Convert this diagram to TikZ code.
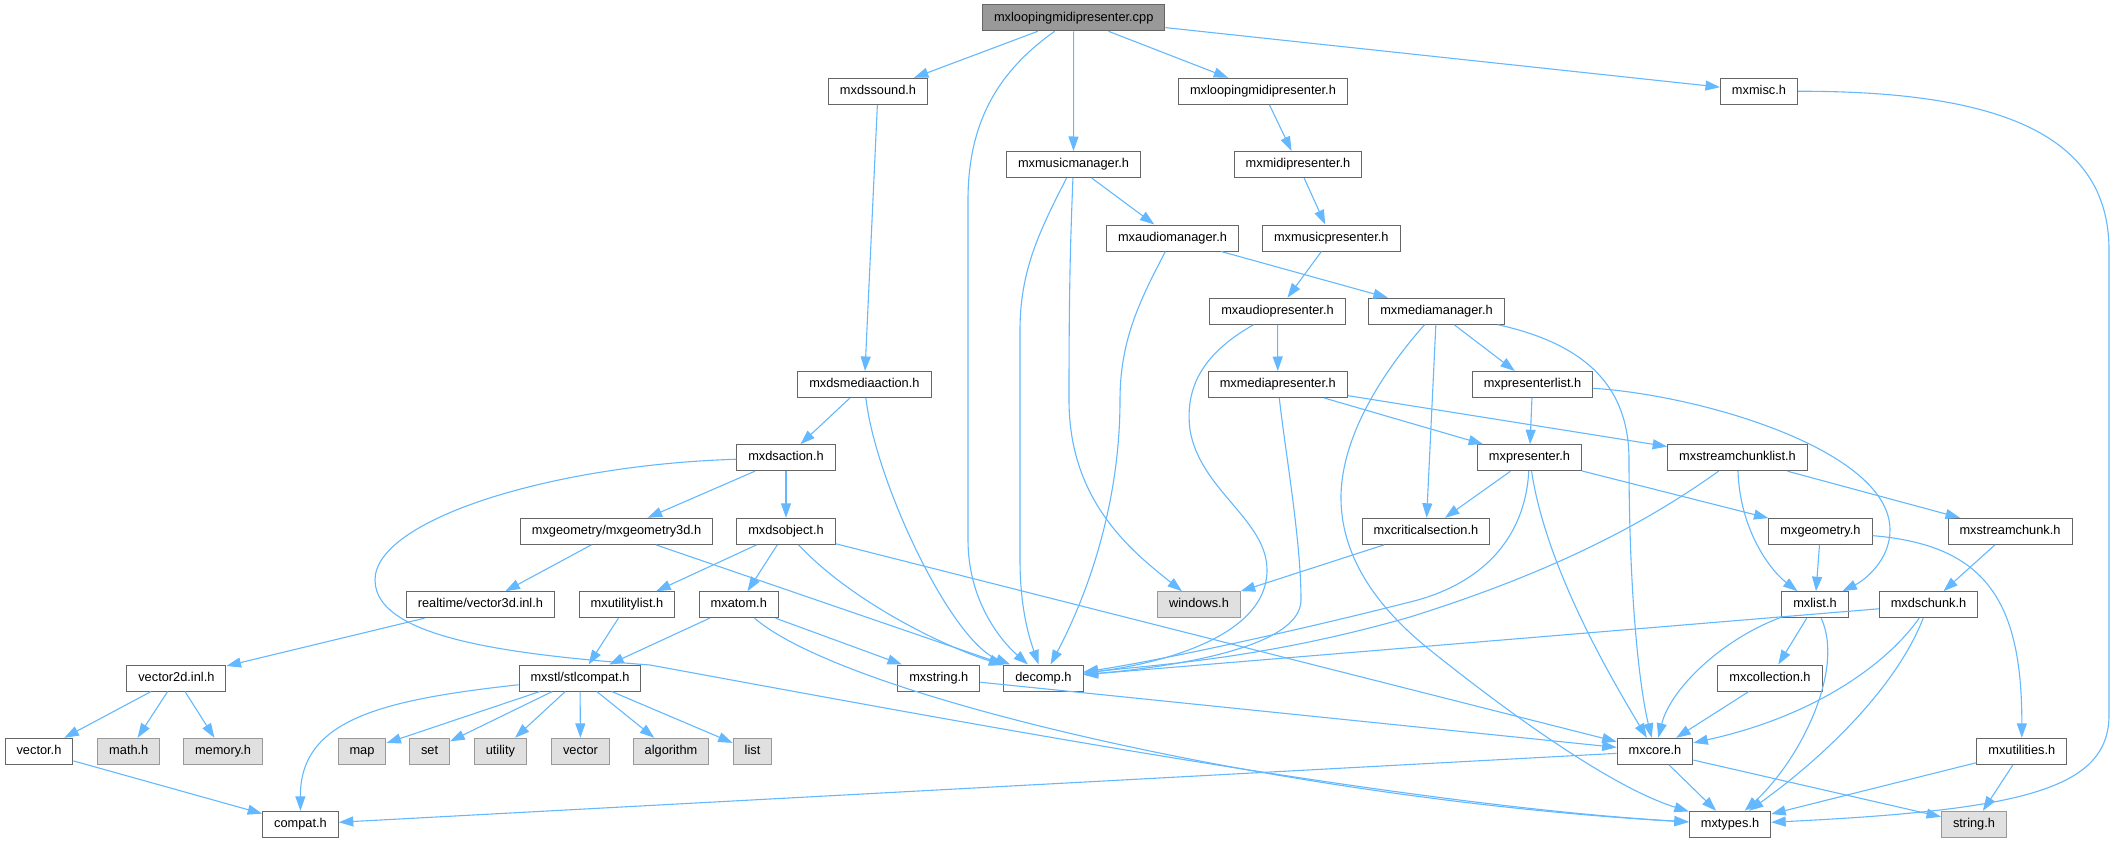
\documentclass[tikz,border=0pt]{standalone}
\usepackage{fontspec}
\setmainfont{Liberation Sans}
\usetikzlibrary{arrows.meta}
\definecolor{edgeblue}{HTML}{63B8FF}
\definecolor{boxline}{HTML}{666666}
\definecolor{sysfill}{HTML}{E0E0E0}
\definecolor{sysline}{HTML}{999999}
\tikzset{
	incgraph/.style={x=1pt,y=-1pt,line width=1.1pt},
	file/.style={draw=boxline,fill=white,line width=1pt,minimum height=26pt,
		inner xsep=11.5pt,inner ysep=0pt,text height=9.2pt,text depth=2.7pt,
		font=\fontsize{12.8pt}{15pt}\selectfont},
	sysfile/.style={file,draw=sysline,fill=sysfill},
	root/.style={file,fill=sysline},
	dep/.style={draw=edgeblue,fill=none,
		-{Triangle[length=14.5pt,width=10pt,color=edgeblue,fill=edgeblue]}}
}

\begin{document}
\begin{tikzpicture}[incgraph]
	\useasboundingbox (0,0) rectangle (2115,843);
	
	\node[root] (cpp) at (1073.7,17.8) {mxloopingmidipresenter.cpp};
	\node[file] (dssound) at (878,91.3) {mxdssound.h};
	\node[file] (loopmidi) at (1263,91.3) {mxloopingmidipresenter.h};
	\node[file] (misc) at (1759,91.3) {mxmisc.h};
	\node[file] (musicmgr) at (1073.5,164.5) {mxmusicmanager.h};
	\node[file] (midipres) at (1298,164.5) {mxmidipresenter.h};
	\node[file] (audiomgr) at (1172.5,238) {mxaudiomanager.h};
	\node[file] (musicpres) at (1331.3,238) {mxmusicpresenter.h};
	\node[file] (audiopres) at (1277.5,311.2) {mxaudiopresenter.h};
	\node[file] (mediamgr) at (1436.5,311.2) {mxmediamanager.h};
	\node[file] (dsmedia) at (864.4,384.5) {mxdsmediaaction.h};
	\node[file] (mediapres) at (1277.8,384.5) {mxmediapresenter.h};
	\node[file] (preslist) at (1532.5,384.5) {mxpresenterlist.h};
	\node[file] (dsaction) at (786,457.7) {mxdsaction.h};
	\node[file] (presenter) at (1529.5,457.7) {mxpresenter.h};
	\node[file] (chunklist) at (1737.5,457.7) {mxstreamchunklist.h};
	\node[file] (geom3d) at (616.5,531.3) {mxgeometry/mxgeometry3d.h};
	\node[file] (dsobject) at (786,531.3) {mxdsobject.h};
	\node[file] (critsec) at (1426,531.3) {mxcriticalsection.h};
	\node[file] (geometry) at (1820.5,531.3) {mxgeometry.h};
	\node[file] (chunk) at (2010,531.3) {mxstreamchunk.h};
	\node[file] (vec3d) at (480.4,604.7) {realtime/vector3d.inl.h};
	\node[file] (utillist) at (627,604.7) {mxutilitylist.h};
	\node[file] (atom) at (738.8,604.7) {mxatom.h};
	\node[sysfile] (windows) at (1199,604.7) {windows.h};
	\node[file] (list) at (1815,604.7) {mxlist.h};
	\node[file] (dschunk) at (1928.5,604.7) {mxdschunk.h};
	\node[file] (vec2d) at (176.4,678) {vector2d.inl.h};
	\node[file] (stlcompat) at (580,678) {mxstl/stlcompat.h};
	\node[file] (string) at (938.8,678) {mxstring.h};
	\node[file] (decomp) at (1043.4,678) {decomp.h};
	\node[file] (collection) at (1770,678) {mxcollection.h};
	\node[file] (vector) at (39,751.3) {vector.h};
	\node[sysfile] (math) at (128.8,751.3) {math.h};
	\node[sysfile] (memory) at (223,751.3) {memory.h};
	\node[sysfile] (stdmap) at (362,751.3) {map};
	\node[sysfile] (stdset) at (429.6,751.3) {set};
	\node[sysfile] (stdutility) at (500.4,751.3) {utility};
	\node[sysfile] (stdvector) at (580.5,751.3) {vector};
	\node[sysfile] (stdalgorithm) at (671,751.3) {algorithm};
	\node[sysfile] (stdlist) at (752.5,751.3) {list};
	\node[file] (core) at (1655,751.3) {mxcore.h};
	\node[file] (utilities) at (2021.8,751.3) {mxutilities.h};
	\node[file] (compat) at (300.5,824.3) {compat.h};
	\node[file] (types) at (1730,824.3) {mxtypes.h};
	\node[sysfile] (stringh) at (1974,824.3) {string.h};
	
	% straight includes
	\path[dep] (cpp) edge (dssound) edge (musicmgr) edge (loopmidi) edge (misc);
	\path[dep] (dssound) edge (dsmedia);
	\path[dep] (loopmidi) edge (midipres);
	\path[dep] (midipres) edge (musicpres);
	\path[dep] (musicpres) edge (audiopres);
	\path[dep] (musicmgr) edge (audiomgr);
	\path[dep] (audiomgr) edge (mediamgr);
	\path[dep] (audiopres) edge (mediapres);
	\path[dep] (mediamgr) edge (critsec) edge (preslist);
	\path[dep] (dsmedia) edge (dsaction);
	\path[dep] (mediapres) edge (presenter) edge (chunklist);
	\path[dep] (preslist) edge (presenter);
	\path[dep] (dsaction) edge (geom3d) edge (dsobject);
	\path[dep] (presenter) edge (critsec) edge (geometry);
	\path[dep] (chunklist) edge (chunk);
	\path[dep] (geom3d) edge (vec3d) edge (decomp);
	\path[dep] (dsobject) edge (utillist) edge (atom) edge (core);
	\path[dep] (critsec) edge (windows);
	\path[dep] (geometry) edge (list);
	\path[dep] (chunk) edge (dschunk);
	\path[dep] (vec3d) edge (vec2d);
	\path[dep] (utillist) edge (stlcompat);
	\path[dep] (atom) edge (stlcompat) edge (string);
	\path[dep] (list) edge (collection);
	\path[dep] (dschunk) edge (decomp);
	\path[dep] (vec2d) edge (vector) edge (math) edge (memory);
	\path[dep] (stlcompat) edge (stdmap) edge (stdset) edge (stdutility) edge (stdvector)
		edge (stdalgorithm) edge (stdlist);
	\path[dep] (string) edge (core);
	\path[dep] (collection) edge (core);
	\path[dep] (vector) edge (compat);
	\path[dep] (core) edge (compat) edge (types) edge (stringh);
	\path[dep] (utilities) edge (types) edge (stringh);
	
	% curved includes
	\draw[dep] (cpp) .. controls (1000,70) and (968,120) .. (968,200) -- (968,540)
		.. controls (968,600) and (1000,640) .. (decomp);
	\draw[dep] (musicmgr) .. controls (1040,230) and (1020,270) .. (1020,330) -- (1020,560)
		.. controls (1020,610) and (1030,640) .. (decomp);
	\draw[dep] (musicmgr) .. controls (1070,250) and (1069,300) .. (1069,400)
		.. controls (1069,500) and (1130,550) .. (windows);
	\draw[dep] (audiomgr) .. controls (1140,300) and (1120,340) .. (1120,400)
		.. controls (1120,500) and (1090,590) .. (decomp);
	\draw[dep] (audiopres) .. controls (1200,355) and (1185,390) .. (1190,430)
		.. controls (1200,490) and (1267,520) .. (1267,570)
		.. controls (1267,640) and (1150,665) .. (decomp);
	\draw[dep] (mediapres) .. controls (1285,450) and (1301,540) .. (1301,600)
		.. controls (1301,650) and (1160,668) .. (decomp);
	\draw[dep] (mediamgr) .. controls (1380,375) and (1340,440) .. (1341,500)
		.. controls (1342,560) and (1380,610) .. (1430,650)
		.. controls (1530,730) and (1620,790) .. (types);
	\draw[dep] (mediamgr) .. controls (1590,345) and (1629,390) .. (1629,460)
		.. controls (1629,600) and (1640,690) .. (core);
	\draw[dep] (preslist) .. controls (1700,395) and (1890,450) .. (1890,530)
		.. controls (1890,560) and (1865,580) .. (list);
	\draw[dep] (presenter) .. controls (1525,540) and (1480,585) .. (1410,602)
		.. controls (1280,635) and (1150,662) .. (decomp);
	\draw[dep] (presenter) .. controls (1545,560) and (1600,660) .. (core);
	\draw[dep] (chunklist) .. controls (1650,520) and (1560,570) .. (1410,617)
		.. controls (1260,660) and (1150,665) .. (decomp);
	\draw[dep] (chunklist) .. controls (1740,530) and (1770,570) .. (list);
	\draw[dep] (geometry) .. controls (1985,545) and (2022,600) .. (utilities);
	\draw[dep] (list) .. controls (1720,640) and (1670,690) .. (core);
	\draw[dep] (list) .. controls (1845,670) and (1800,760) .. (types);
	\draw[dep] (dschunk) .. controls (1890,660) and (1820,715) .. (core);
	\draw[dep] (dschunk) .. controls (1895,690) and (1820,760) .. (types);
	\draw[dep] (misc) .. controls (1990,91) and (2109,130) .. (2109,250) -- (2109,715)
		.. controls (2109,790) and (2020,810) .. (types);
	\draw[dep] (dsmedia) .. controls (875,480) and (950,640) .. (decomp);
	\draw[dep] (dsobject) .. controls (850,600) and (940,645) .. (decomp);
	\draw[dep] (dsaction) .. controls (550,465) and (375,520) .. (375,580)
		.. controls (375,640) and (520,655) .. (650,665)
		.. controls (950,720) and (1400,805) .. (types);
	\draw[dep] (atom) .. controls (850,700) and (1300,800) .. (types);
	\draw[dep] (stlcompat) .. controls (380,700) and (300,720) .. (compat);
\end{tikzpicture}
\end{document}
